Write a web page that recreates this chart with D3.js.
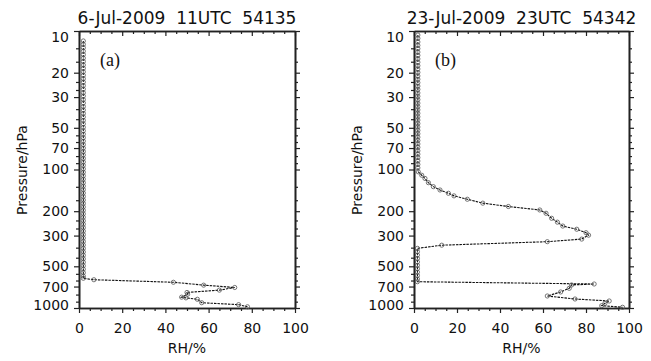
<!DOCTYPE html>
<html>
<head>
<meta charset="utf-8">
<script src="https://cdn.jsdelivr.net/npm/d3@7"></script>
<style>
  body { margin: 0; background: #fff; }
  svg { display: block; }
  text { font-family: "DejaVu Sans", sans-serif; fill: #111; }
</style>
</head>
<body>
<div id="chart"></div>
<script>
// axis values
const rhTicks = [0, 20, 40, 60, 80, 100];
const pressureTicks = [10, 20, 30, 50, 70, 100, 200, 300, 500, 700, 1000];

const titles = ['6-Jul-2009  11UTC  54135', '23-Jul-2009  23UTC  54342'];
const panelLabels = ['(a)', '(b)'];

// panel (a): pressure levels (hPa) and relative humidity (%)
const pressA = [
  11.8, 12.5, 13.2, 14.0, 14.8, 15.7, 16.6, 17.6, 18.6, 19.7,
  20.9, 22.1, 23.4, 24.8, 26.3, 27.9, 29.5, 31.3, 33.1, 35.1,
  37.2, 39.4, 41.7, 44.2, 46.8, 49.6, 52.5, 55.6, 58.9, 62.4,
  66.1, 70.0, 74.1, 78.5, 83.2, 88.1, 93.3, 98.9, 104.7, 110.9,
  117.5, 124.5, 131.8, 139.6, 147.9, 156.7, 166.0, 175.8, 186.2, 197.2,
  208.9, 221.3, 234.4, 248.3, 263.0, 278.6, 295.1, 312.6, 331.1, 350.8,
  371.5, 393.6, 416.9, 441.6, 467.7, 495.5, 524.8, 555.9, 588.8, 610,
  625, 652, 684, 711, 743, 772, 795, 835, 845, 865, 916, 946, 980
];
const rhA = [
  2, 2, 2, 2, 2, 2, 2, 2, 2, 2,
  2, 2, 2, 2, 2, 2, 2, 2, 2, 2,
  2, 2, 2, 2, 2, 2, 2, 2, 2, 2,
  2, 2, 2, 2, 2, 2, 2, 2, 2, 2,
  2, 2, 2, 2, 2, 2, 2, 2, 2, 2,
  2, 2, 2, 2, 2, 2, 2, 2, 2, 2,
  2, 2, 2, 2, 2, 2, 2, 2, 2, 2,
  6.9, 43.7, 57.7, 72.1, 65.0, 50.0, 50.3, 47.5, 49.5, 54.8, 56.8, 73.9, 78.0
];

// panel (b)
const pressB = [
  10.7, 11.3, 12.0, 12.7, 13.4, 14.2, 15.0, 15.9, 16.8, 17.8,
  18.8, 19.9, 21.1, 22.3, 23.6, 25.0, 26.4, 28.0, 29.6, 31.3,
  33.2, 35.1, 37.1, 39.3, 41.6, 44.0, 46.6, 49.3, 52.2, 55.2,
  58.4, 61.8, 65.4, 69.2, 73.3, 77.5, 82.0, 86.8, 91.9, 97.2,
  104, 110, 116, 124.5, 133, 140.6, 148.5, 155, 164, 175,
  185, 196, 207, 225, 240, 256, 270, 286, 298, 318,
  332, 352, 371, 392, 415, 439, 465, 492, 520, 551,
  583, 617, 646, 671, 682, 721, 766, 819, 861, 890,
  925, 962, 988
];
const rhB = [
  1.8, 1.8, 1.8, 1.8, 1.8, 1.8, 1.8, 1.8, 1.8, 1.8,
  1.8, 1.8, 1.8, 1.8, 1.8, 1.8, 1.8, 1.8, 1.8, 1.8,
  1.8, 1.8, 1.8, 1.8, 1.8, 1.8, 1.8, 1.8, 1.8, 1.8,
  1.8, 1.8, 1.8, 1.8, 1.8, 1.8, 1.8, 1.8, 1.8, 1.8,
  2.0, 3.6, 5.1, 6.7, 9.0, 12.1, 16.0, 18.6, 24.8, 32.0,
  43.9, 58.5, 61.4, 64.0, 66.7, 69.2, 75.7, 80.0, 81.2, 78.0,
  62.0, 12.9, 1.6, 1.6, 1.6, 1.6, 1.6, 1.6, 1.6, 1.6,
  1.6, 1.6, 1.6, 83.8, 73.3, 72.2, 68.2, 62.0, 74.9, 90.8,
  88.8, 87.3, 97.0
];

const width = 651;
const height = 361;
const plotTop = 31;
const plotBottom = 308;
const panels = [
  { left: 79, right: 295, press: pressA, rh: rhA },
  { left: 414, right: 629, press: pressB, rh: rhB },
];

const svg = d3.select('#chart')
  .append('svg')
  .attr('width', width)
  .attr('height', height);

const y = d3.scaleLog()
  .domain([10, 1000])
  .range([plotTop, plotBottom]);

// minor ticks: 3 linear steps between log majors, 4 steps between rh majors
const pressureMinor = [];
for (let i = 0; i < pressureTicks.length - 1; i++) {
  const a = pressureTicks[i], b = pressureTicks[i + 1];
  pressureMinor.push(a + (b - a) / 3, a + 2 * (b - a) / 3);
}
const rhMinor = d3.range(0, 101, 5).filter((v) => v % 20 !== 0);

const MAJOR = 5;
const MINOR = 3;

panels.forEach((p, i) => {
  const x = d3.scaleLinear()
    .domain([0, 100])
    .range([p.left, p.right]);

  const g = svg.append('g');

  // bottom axis, ticks outward
  g.append('g')
    .attr('transform', `translate(0,${plotBottom})`)
    .call(d3.axisBottom(x).tickValues(rhTicks).tickSizeInner(MAJOR)
      .tickSizeOuter(0).tickPadding(10).tickFormat(d3.format('d')));
  g.append('g')
    .attr('transform', `translate(0,${plotBottom})`)
    .call(d3.axisBottom(x).tickValues(rhMinor).tickSize(MINOR)
      .tickSizeOuter(0).tickFormat(''));

  // top axis, ticks pointing inward
  g.append('g')
    .attr('transform', `translate(0,${plotTop})`)
    .call(d3.axisBottom(x).tickValues(rhTicks).tickSize(MAJOR)
      .tickSizeOuter(0).tickFormat(''));
  g.append('g')
    .attr('transform', `translate(0,${plotTop})`)
    .call(d3.axisBottom(x).tickValues(rhMinor).tickSize(MINOR)
      .tickSizeOuter(0).tickFormat(''));

  // left axis
  g.append('g')
    .attr('class', 'left-axis')
    .attr('transform', `translate(${p.left},0)`)
    .call(d3.axisLeft(y).tickValues(pressureTicks).tickSize(MAJOR)
      .tickSizeOuter(0).tickPadding(5).tickFormat(d3.format('d')));
  g.append('g')
    .attr('transform', `translate(${p.left},0)`)
    .call(d3.axisLeft(y).tickValues(pressureMinor).tickSize(MINOR)
      .tickSizeOuter(0).tickFormat(''));

  // right axis
  g.append('g')
    .attr('transform', `translate(${p.right},0)`)
    .call(d3.axisRight(y).tickValues(pressureTicks).tickSize(MAJOR)
      .tickSizeOuter(0).tickFormat(''));
  g.append('g')
    .attr('transform', `translate(${p.right},0)`)
    .call(d3.axisRight(y).tickValues(pressureMinor).tickSize(MINOR)
      .tickSizeOuter(0).tickFormat(''));

  g.selectAll('.domain').attr('stroke', '#222').attr('stroke-width', 1.6);
  g.selectAll('.tick line').attr('stroke', '#222').attr('stroke-width', 1.2);
  g.selectAll('.tick text')
    .attr('font-size', 14)
    .attr('font-family', '"DejaVu Sans", sans-serif')
    .attr('fill', '#111');

  // nudge the end labels inside like the original
  g.selectAll('.left-axis .tick text')
    .filter((d) => d === 10)
    .attr('dy', '0.75em');
  g.selectAll('.left-axis .tick text')
    .filter((d) => d === 1000)
    .attr('dy', '0.1em');

  // profile
  const pts = p.press.map((v, k) => [p.rh[k], v]);
  const line = d3.line()
    .x((d) => x(d[0]))
    .y((d) => y(d[1]));

  g.append('path')
    .datum(pts)
    .attr('fill', 'none')
    .attr('stroke', '#111')
    .attr('stroke-width', 1.1)
    .attr('stroke-dasharray', '2.5,1')
    .attr('d', line);

  g.append('g')
    .selectAll('circle')
    .data(pts)
    .enter().append('circle')
      .attr('cx', (d) => x(d[0]))
      .attr('cy', (d) => y(d[1]))
      .attr('r', 2.1)
      .attr('fill', 'none')
      .attr('stroke', '#555')
      .attr('stroke-width', 0.8);

  const mid = (p.left + p.right) / 2;

  g.append('text')
    .attr('x', mid)
    .attr('y', 24)
    .attr('text-anchor', 'middle')
    .attr('font-size', 17)
    .style('white-space', 'pre')
    .text(titles[i]);

  g.append('text')
    .attr('x', mid)
    .attr('y', 353)
    .attr('text-anchor', 'middle')
    .attr('font-size', 14)
    .text('RH/%');

  g.append('text')
    .attr('transform', `translate(${p.left - 52},170) rotate(-90)`)
    .attr('text-anchor', 'middle')
    .attr('font-size', 14)
    .text('Pressure/hPa');

  g.append('text')
    .attr('x', p.left + 21)
    .attr('y', 66)
    .style('font-family', '"Liberation Serif", serif')
    .attr('font-size', 18)
    .text(panelLabels[i]);
});
</script>
</body>
</html>
